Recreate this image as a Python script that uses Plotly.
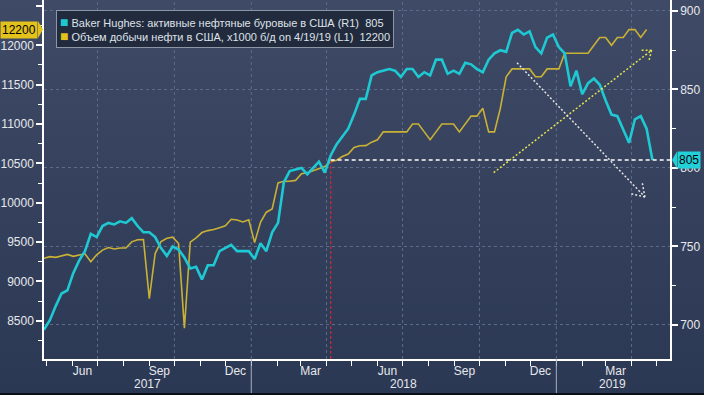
import base64
import pandas as pd
import plotly.graph_objects as go

# ---------------- data ----------------
start_date = "2017-04-28"  # first weekly observation (Friday)

# Baker Hughes US oil rig count (right axis, R1), weekly
rig_count = [
    697, 703, 712, 720, 722, 733, 741, 747, 758, 756,
    763, 765, 764, 766, 765, 768, 763, 759, 759, 756,
    749, 744, 750, 748, 743, 736, 737, 729, 738, 738,
    747, 749, 751, 747, 747, 747,
    742, 752, 747, 759, 765, 791, 798, 799, 800, 796,
    800, 804, 797, 808, 815, 820, 825, 834, 844, 844,
    859, 861, 862, 863, 862, 858, 863, 863, 858, 861,
    859, 869, 869, 860, 862, 860, 867, 866, 863, 861,
    869, 873, 875, 874, 886, 888, 885, 887, 877, 873,
    883, 885,
    877, 873, 852, 862, 847, 854, 857, 853, 843, 834,
    833, 824, 816, 831, 833, 825, 805,
]

# US crude oil production, thousand b/d (left axis, L1), weekly
oil_prod = [
    9293, 9314, 9305, 9320, 9342, 9318, 9330, 9350, 9250, 9338,
    9397, 9429, 9411, 9423, 9423, 9502, 9528, 9530, 8781, 9353,
    9505, 9547, 9561, 9480, 8406, 9499, 9553, 9620, 9645, 9658,
    9682, 9707, 9789, 9780, 9754, 9782,
    9492, 9750, 9879, 9919, 10251, 10271, 10273, 10283, 10369, 10381,
    10407, 10433, 10460, 10525, 10540, 10586, 10619, 10703, 10723, 10725,
    10769, 10800, 10900, 10900, 10900, 10900, 10900, 11000, 11000, 10900,
    10800, 10900, 11000, 11000, 11000, 10900, 11000, 11100, 11100, 11200,
    10900, 10900, 11200, 11600, 11700, 11700, 11700, 11700, 11600, 11600,
    11700, 11700,
    11700, 11900, 11900, 11900, 11900, 11900, 12000, 12100, 12100, 12000,
    12100, 12100, 12200, 12200, 12100, 12200,
]

month_labels = ["Jun", "Sep", "Dec", "Mar", "Jun", "Sep", "Dec", "Mar"]
month_label_dates = ["2017-06-13", "2017-09-13", "2017-12-13", "2018-03-13",
                     "2018-06-13", "2018-09-13", "2018-12-13", "2019-03-13"]
quarter_grid_dates = ["2017-07-01", "2017-10-01", "2018-01-01", "2018-04-01",
                      "2018-07-01", "2018-10-01", "2019-01-01", "2019-04-01"]
year_labels = ["2017", "2018", "2019"]
year_label_dates = ["2017-08-30", "2018-07-02", "2019-03-09"]
year_sep_dates = ["2018-01-01", "2019-01-01"]

legend_rig = "Baker Hughes: активные нефтяные буровые в США (R1)\u00a0\u00a0805"
legend_prod = "Объем добычи нефти в США, x1000 б/д on 4/19/19 (L1)\u00a0\u00a012200"

last_rig = 805
last_prod = 12200
marker_date = "2018-04-06"   # red marker / start of the 805 level line

# analyst trend arrows: (start date, start value R1), (end date, end value R1)
up_arrow = [("2018-10-18", 797), ("2019-04-25", 875)]
down_arrow = [("2018-11-15", 867), ("2019-04-17", 781.5)]

# ---------------- layout constants ----------------
W, H = 704, 395
ML, MR, MT, MB = 44, 34, 0, 36
PW, PH = W - ML - MR, H - MT - MB
X_RANGE = ["2017-04-28", "2019-05-17"]
Y1_RANGE = [8013, 12576]
Y2_RANGE = [678.3, 907.0]

CYAN = "#1ec9d3"
GOLD = "#c9b136"
GRID = "#5d6c88"
TXT = "#e6e8ec"
FONT = "Liberation Sans, Arial, sans-serif"

rig_dates = pd.date_range(start_date, periods=len(rig_count), freq="7D")
prod_dates = pd.date_range(start_date, periods=len(oil_prod), freq="7D")

x0t, x1t = pd.Timestamp(X_RANGE[0]), pd.Timestamp(X_RANGE[1])
span = (x1t - x0t).total_seconds()


def px(d):
    return ML + (pd.Timestamp(d) - x0t).total_seconds() / span * PW


def inv_px(p):
    return x0t + pd.Timedelta(seconds=(p - ML) / PW * span)


def py2(v):
    return MT + (Y2_RANGE[1] - v) / (Y2_RANGE[1] - Y2_RANGE[0]) * PH


def inv_py2(p):
    return Y2_RANGE[1] - (p - MT) / PH * (Y2_RANGE[1] - Y2_RANGE[0])


fig = go.Figure()

fig.add_trace(go.Scatter(x=prod_dates, y=oil_prod, mode="lines", yaxis="y",
                         line=dict(color=GOLD, width=1.6), hoverinfo="skip"))
fig.add_trace(go.Scatter(x=rig_dates, y=rig_count, mode="lines", yaxis="y2",
                         line=dict(color=CYAN, width=2.6), hoverinfo="skip"))

shapes = []
# vertical quarter gridlines
for d in quarter_grid_dates:
    shapes.append(dict(type="line", xref="x", yref="paper", x0=d, x1=d, y0=0, y1=1,
                       line=dict(color=GRID, width=1, dash="3px,3px"), layer="below"))
# year separators in the axis area
for d in year_sep_dates:
    shapes.append(dict(type="line", xref="x", yref="paper", x0=d, x1=d, y0=0,
                       y1=-MB / PH, line=dict(color="#a7afbd", width=1)))
# red vertical marker
shapes.append(dict(type="line", xref="x", yref="y2", x0=marker_date, x1=marker_date,
                   y0=Y2_RANGE[0], y1=last_rig,
                   line=dict(color="#cc2b35", width=1.2, dash="3px,2px")))
# white horizontal level line
shapes.append(dict(type="line", xref="x", yref="y2", x0=marker_date, x1=X_RANGE[1],
                   y0=last_rig, y1=last_rig,
                   line=dict(color="#ffffff", width=1.5, dash="4px,3px")))


def arrow(pts, color, ang_deg, length):
    import math
    (d0, v0), (d1, v1) = pts
    shapes.append(dict(type="line", xref="x", yref="y2", x0=d0, y0=v0, x1=d1, y1=v1,
                       line=dict(color=color, width=1.5, dash="2px,2px")))
    ax, ay = px(d0), py2(v0)
    bx, by = px(d1), py2(v1)
    base = math.atan2(ay - by, ax - bx)
    for s in (-1, 1):
        a = base + s * math.radians(ang_deg)
        cx, cy = bx + length * math.cos(a), by + length * math.sin(a)
        shapes.append(dict(type="line", xref="x", yref="y2",
                           x0=d1, y0=v1, x1=inv_px(cx), y1=inv_py2(cy),
                           line=dict(color=color, width=1.5, dash="2px,2px")))


arrow(up_arrow, "#e4e44c", 38, 12)
arrow(down_arrow, "#e2e2e2", 33, 14)

# value tag pointers
shapes.append(dict(type="path", xref="paper", yref="y", xsizemode="pixel",
                   ysizemode="pixel", xanchor=0, yanchor=last_prod,
                   path="M-6,-8.5 L-1,0 L-6,8.5 Z", fillcolor="#e3c21c", line=dict(width=0)))
shapes.append(dict(type="path", xref="paper", yref="y2", xsizemode="pixel",
                   ysizemode="pixel", xanchor=1, yanchor=last_rig,
                   path="M7,-8.5 L2,0 L7,8.5 Z", fillcolor="#22d0d8", line=dict(width=0)))
# dark strip at the bottom edge
shapes.append(dict(type="rect", xref="paper", yref="paper", x0=-ML / PW, x1=1 + MR / PW,
                   y0=-MB / PH, y1=-(MB - 2) / PH, fillcolor="#0c0f16", line=dict(width=0)))

annotations = []
for lab, d in zip(year_labels, year_label_dates):
    annotations.append(dict(text=lab, x=d, xref="x", y=0, yref="paper", yshift=-25,
                            yanchor="middle", showarrow=False,
                            font=dict(family=FONT, size=12, color=TXT)))

legend_text = (f'<span style="color:{CYAN};font-size:14px">\u25a0</span>\u00a0{legend_rig}<br>'
               f'<span style="color:#e3c21c;font-size:14px">\u25a0</span>\u00a0{legend_prod}')
annotations.append(dict(text=legend_text, xref="paper", yref="paper",
                        x=(56 - ML) / PW, y=1 - 10 / PH, xanchor="left", yanchor="top",
                        align="left", showarrow=False, bgcolor="#222b3e",
                        bordercolor="#8d96a6", borderwidth=1, borderpad=3,
                        font=dict(family=FONT, size=11, color="#dfe2e8")))

annotations.append(dict(text=f"{last_prod}", xref="paper", x=0, xanchor="right", xshift=-6,
                        yref="y", y=last_prod, yanchor="middle", showarrow=False,
                        bgcolor="#e3c21c", borderpad=1,
                        font=dict(family=FONT, size=12, color="#000000")))
annotations.append(dict(text=f"{last_rig}", xref="paper", x=1, xanchor="left", xshift=7,
                        yref="y2", y=last_rig, yanchor="middle", showarrow=False,
                        bgcolor="#22d0d8", borderpad=1,
                        font=dict(family=FONT, size=12, color="#000000")))

svg = ('<svg xmlns="http://www.w3.org/2000/svg" width="704" height="395" '
       'viewBox="0 0 704 395" preserveAspectRatio="none"><defs>'
       '<linearGradient id="g" x1="0" y1="0" x2="0" y2="1">'
       '<stop offset="0" stop-color="#3f4a66"/><stop offset="1" stop-color="#2b3853"/>'
       '</linearGradient></defs><rect width="704" height="395" fill="url(#g)"/></svg>')
bg_src = "data:image/svg+xml;base64," + base64.b64encode(svg.encode()).decode()

fig.update_layout(
    width=W, height=H,
    margin=dict(l=ML, r=MR, t=MT, b=MB, pad=0),
    paper_bgcolor="#343f5b",
    plot_bgcolor="rgba(0,0,0,0)",
    showlegend=False,
    font=dict(family=FONT, size=12, color=TXT),
    images=[dict(source=bg_src, xref="paper", yref="paper", x=-ML / PW, y=1 + MT / PH,
                 sizex=W / PW, sizey=H / PH, xanchor="left", yanchor="top",
                 sizing="stretch", layer="below")],
    xaxis=dict(type="date", range=X_RANGE, showgrid=False, zeroline=False,
               showline=True, linecolor="#ffffff", linewidth=1.5,
               tickmode="array", tickvals=month_label_dates, ticktext=month_labels,
               ticks="", tickfont=dict(family=FONT, size=12, color=TXT),
               minor=dict(dtick="M1", tick0="2017-01-01", ticks="outside", ticklen=5,
                          tickwidth=1.2, tickcolor="#ffffff", showgrid=False),
               automargin=False, fixedrange=True),
    yaxis=dict(range=Y1_RANGE, side="left", showgrid=False, zeroline=False,
               showline=True, linecolor="#ffffff", linewidth=1.5,
               tickmode="linear", tick0=0, dtick=500, tickformat="d",
               ticks="outside", ticklen=6, tickwidth=2, tickcolor="#ffffff",
               tickfont=dict(family=FONT, size=12, color=TXT),
               minor=dict(dtick=250, tick0=0, ticks="outside", ticklen=4,
                          tickwidth=1, tickcolor="#ffffff"),
               automargin=False, fixedrange=True),
    yaxis2=dict(range=Y2_RANGE, side="right", overlaying="y", zeroline=False,
                showline=True, linecolor="#ffffff", linewidth=1.5,
                showgrid=True, gridcolor=GRID, gridwidth=1, griddash="3px,3px",
                tickmode="linear", tick0=0, dtick=50, tickformat="d",
                ticks="outside", ticklen=6, tickwidth=2, tickcolor="#ffffff",
                tickfont=dict(family=FONT, size=12, color=TXT),
                minor=dict(dtick=25, tick0=0, ticks="outside", ticklen=4,
                           tickwidth=1, tickcolor="#ffffff"),
                automargin=False, fixedrange=True),
    shapes=shapes,
    annotations=annotations,
)

fig.write_html("out.html", config={"displayModeBar": False},
               post_script="document.body.style.margin='0';document.body.style.overflow='hidden';")
